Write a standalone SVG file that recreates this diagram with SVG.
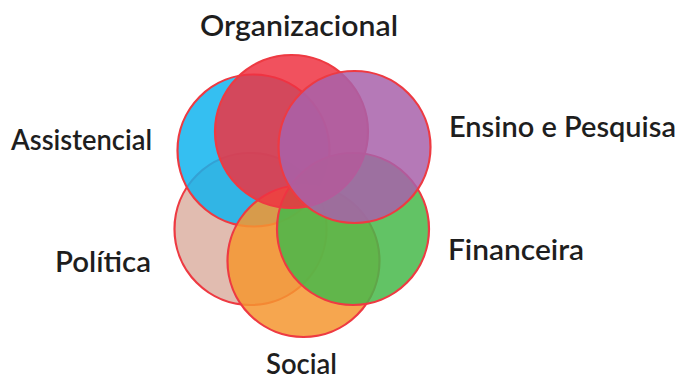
<svg xmlns="http://www.w3.org/2000/svg" width="677" height="380" viewBox="0 0 677 380">
<style>
  .c { stroke: #ee3a42; stroke-width: 2.2; fill-opacity: 0.85; }
  .t { font-family: Lato, "Open Sans", "Liberation Sans", sans-serif; font-size: 29px; fill: #1e1e1e; font-weight: 600; }
</style>
<rect width="677" height="380" fill="#ffffff"/>
<g id="politica"><circle class="c" cx="250.5" cy="229" r="76" fill="#dcb0a2"/></g>
<g id="assistencial"><circle class="c" cx="253.5" cy="150.5" r="76" fill="#12b4ee"/></g>
<g id="social"><circle class="c" cx="303.5" cy="261" r="76" fill="#f59630"/></g>
<g id="financeira"><circle class="c" cx="353" cy="229" r="76" fill="#46b84a"/></g>
<g id="organizacional"><circle class="c" cx="291.5" cy="131.5" r="76.5" fill="#ee3342" stroke="none"/></g>
<g id="ensino"><circle class="c" cx="354.5" cy="147" r="76" fill="#a862aa"/></g>
<g id="labels">
  <text class="t" x="200" y="36" textLength="198" lengthAdjust="spacingAndGlyphs">Organizacional</text>
  <text class="t" x="11" y="150" textLength="141" lengthAdjust="spacingAndGlyphs">Assistencial</text>
  <text class="t" x="449" y="137" textLength="227" lengthAdjust="spacingAndGlyphs">Ensino e Pesquisa</text>
  <text class="t" x="55" y="272" textLength="96" lengthAdjust="spacingAndGlyphs">Política</text>
  <text class="t" x="448" y="260" textLength="136" lengthAdjust="spacingAndGlyphs">Financeira</text>
  <text class="t" x="266" y="374" textLength="71" lengthAdjust="spacingAndGlyphs">Social</text>
</g>
</svg>
